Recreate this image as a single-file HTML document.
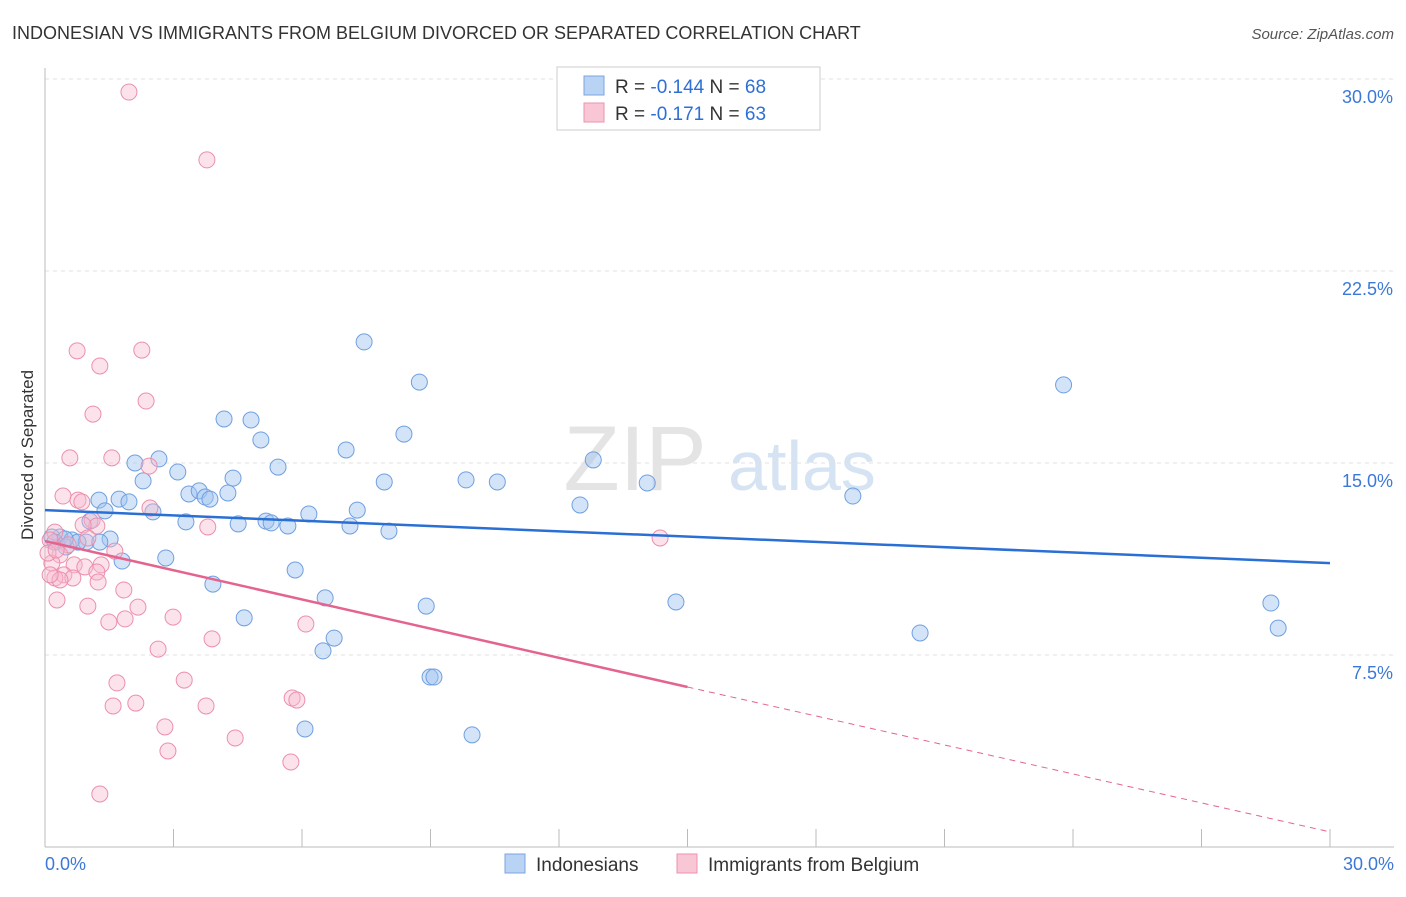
<!DOCTYPE html>
<html><head><meta charset="utf-8"><style>
body{margin:0;background:#fff;font-family:"Liberation Sans",sans-serif;}
svg text{font-family:"Liberation Sans",sans-serif;}
</style></head><body>
<svg id="c" width="1406" height="892">
<text x="12" y="39" font-size="18" fill="#333">INDONESIAN VS IMMIGRANTS FROM BELGIUM DIVORCED OR SEPARATED CORRELATION CHART</text>
<text x="1394" y="39" font-size="15" fill="#555" font-style="italic" text-anchor="end">Source: ZipAtlas.com</text>
<text x="33" y="455" font-size="17" fill="#333" transform="rotate(-90 33 455)" text-anchor="middle">Divorced or Separated</text>
<g><text x="635" y="490" font-size="92" fill="#e4e4e4" font-family="Liberation Serif" text-anchor="middle">ZIP</text><text x="802" y="490" font-size="70" fill="#d5e3f3" text-anchor="middle">atlas</text></g>
<g id="grid"></g><g id="axes"></g><g id="pts"></g><g id="trend"></g>
<g>
<rect x="557" y="67" width="263" height="63" fill="#fff" stroke="#ccc"/>
<rect x="584" y="76" width="20" height="19" fill="#b9d3f5" stroke="#7aa6e0"/>
<rect x="584" y="103" width="20" height="19" fill="#f9c6d5" stroke="#eb94ae"/>
<text x="615" y="93" font-size="19" fill="#333">R = <tspan fill="#2e6fd6">-0.144</tspan>   N = <tspan fill="#2e6fd6">68</tspan></text>
<text x="615" y="120" font-size="19" fill="#333">R =  <tspan fill="#2e6fd6">-0.171</tspan>   N = <tspan fill="#2e6fd6">63</tspan></text>
</g>
<g>
<rect x="505" y="854" width="20" height="19" fill="#b9d3f5" stroke="#7aa6e0"/>
<text x="536" y="871" font-size="19" fill="#333">Indonesians</text>
<rect x="677" y="854" width="20" height="19" fill="#f9c6d5" stroke="#eb94ae"/>
<text x="708" y="871" font-size="19" fill="#333">Immigrants from Belgium</text>
</g>
</svg>
<script>
const yTicks=[7.5,15,22.5,30];
const yTickLabels=["7.5%","15.0%","22.5%","30.0%"];
const xTickLabels=["0.0%","30.0%"];
const blueX=[7.45,8.74,23.78,4.18,4.81,8.38,5.04,7.03,2.66,2.1,12.8,3.1,5.44,4.39,2.29,9.83,10.56,7.92,14.06,1.26,1.73,1.96,3.36,3.6,3.74,4.27,3.85,18.86,12.49,2.52,1.4,6.16,7.29,3.29,4.51,5.16,5.28,5.67,7.12,8.03,1.05,0.35,0.16,0.63,0.96,1.52,0.49,1.8,2.82,5.84,3.92,6.54,14.73,28.62,8.9,4.65,6.75,6.49,20.43,28.79,8.99,9.08,6.07,9.97,0.23,0.77,0.47,1.28];
const blueY=[19.73,18.16,18.05,16.72,16.68,16.13,15.9,15.51,15.16,15.0,15.12,14.65,14.84,14.41,14.3,14.34,14.26,14.26,14.22,13.55,13.59,13.48,13.79,13.91,13.67,13.83,13.59,13.71,13.36,13.09,13.13,13.01,13.16,12.7,12.62,12.73,12.66,12.54,12.54,12.34,12.73,12.11,12.11,11.99,11.91,12.03,11.72,11.17,11.29,10.82,10.27,9.73,9.57,9.53,9.41,8.95,8.16,7.66,8.36,8.55,6.64,6.64,4.61,4.38,11.91,11.91,12.03,11.91];
const pinkX=[1.96,3.78,0.75,2.26,1.28,2.36,1.12,0.58,1.56,2.43,0.42,0.77,0.86,2.45,1.1,1.21,0.89,3.8,14.36,0.23,0.12,0.54,1.0,1.63,0.35,0.16,0.68,1.31,0.93,0.44,1.21,0.65,0.23,0.35,1.24,1.84,0.28,1.0,2.17,2.99,1.49,1.87,6.09,3.9,2.64,1.68,3.25,5.77,5.88,1.59,2.12,3.76,2.8,4.44,2.87,5.74,1.28,0.07,0.12,0.26];
const pinkY=[29.49,26.84,19.38,19.41,18.79,17.42,16.91,15.2,15.2,14.88,13.71,13.55,13.48,13.24,12.77,12.54,12.58,12.5,12.07,12.3,11.99,11.8,12.07,11.56,11.41,11.09,11.02,11.02,10.94,10.63,10.74,10.51,10.51,10.43,10.35,10.04,9.65,9.41,9.37,8.98,8.79,8.91,8.71,8.13,7.73,6.41,6.52,5.82,5.74,5.51,5.62,5.51,4.69,4.26,3.75,3.32,2.07,11.48,10.63,11.6];
const blueTrend=[13.16,11.09];
const pinkTrend=[11.95,6.25,0.59];
const X=v=>45+v*(1285/30), Y=v=>847-v*(768/30);
const NS="http://www.w3.org/2000/svg";
function mk(t,p,a){const e=document.createElementNS(NS,t);for(const k in a)e.setAttribute(k,a[k]);p.appendChild(e);return e;}
const grid=document.getElementById('grid'),axes=document.getElementById('axes'),pts=document.getElementById('pts'),tr=document.getElementById('trend');
yTicks.forEach((v,i)=>{
 const l=mk('line',grid,{x1:45,x2:1394,y1:Y(v),y2:Y(v),stroke:'#e2e2e2','stroke-dasharray':'4,4'});
 
 
 const t=mk('text',grid,{x:1393,y:Y(v)+24,'font-size':18,fill:'#3b78d8','text-anchor':'end'});
 t.textContent=yTickLabels[i];
 
 
});
const ax=mk('line',axes,{x1:45,x2:1394,y1:847,y2:847,stroke:'#bbb'});


const ay=mk('line',axes,{x1:45,x2:45,y1:68,y2:847,stroke:'#bbb'});


for(let i=0;i<=10;i++){const t=mk('line',axes,{x1:X(i*3),x2:X(i*3),y1:829,y2:847,stroke:'#bbb'});
 
 }
[[0,'start',45],[1,'end',1394]].forEach(([i,a,x])=>{const t=mk('text',axes,{x:x,y:870,'font-size':18,fill:'#3b78d8','text-anchor':a});t.textContent=xTickLabels[i];
 
 });
blueX.forEach((v,i)=>{const c=mk('circle',pts,{cx:X(v),cy:Y(blueY[i]),r:8,fill:'rgba(160,196,240,0.45)',stroke:'#6f9fe0','stroke-width':1});
 
 });
pinkX.forEach((v,i)=>{const c=mk('circle',pts,{cx:X(v),cy:Y(pinkY[i]),r:8,fill:'rgba(248,186,205,0.4)',stroke:'#ec8fac','stroke-width':1});
 
 });
const bl=mk('line',tr,{x1:X(0),y1:Y(blueTrend[0]),x2:X(30),y2:Y(blueTrend[1]),stroke:'#2a6fd4','stroke-width':2.5});


const pl=mk('line',tr,{x1:X(0),y1:Y(pinkTrend[0]),x2:X(15),y2:Y(pinkTrend[1]),stroke:'#e4648f','stroke-width':2.5});


const pd=mk('line',tr,{x1:X(15),y1:Y(pinkTrend[1]),x2:X(30),y2:Y(pinkTrend[2]),stroke:'#e4648f','stroke-width':1,'stroke-dasharray':'6,5'});


</script>
</body></html>
